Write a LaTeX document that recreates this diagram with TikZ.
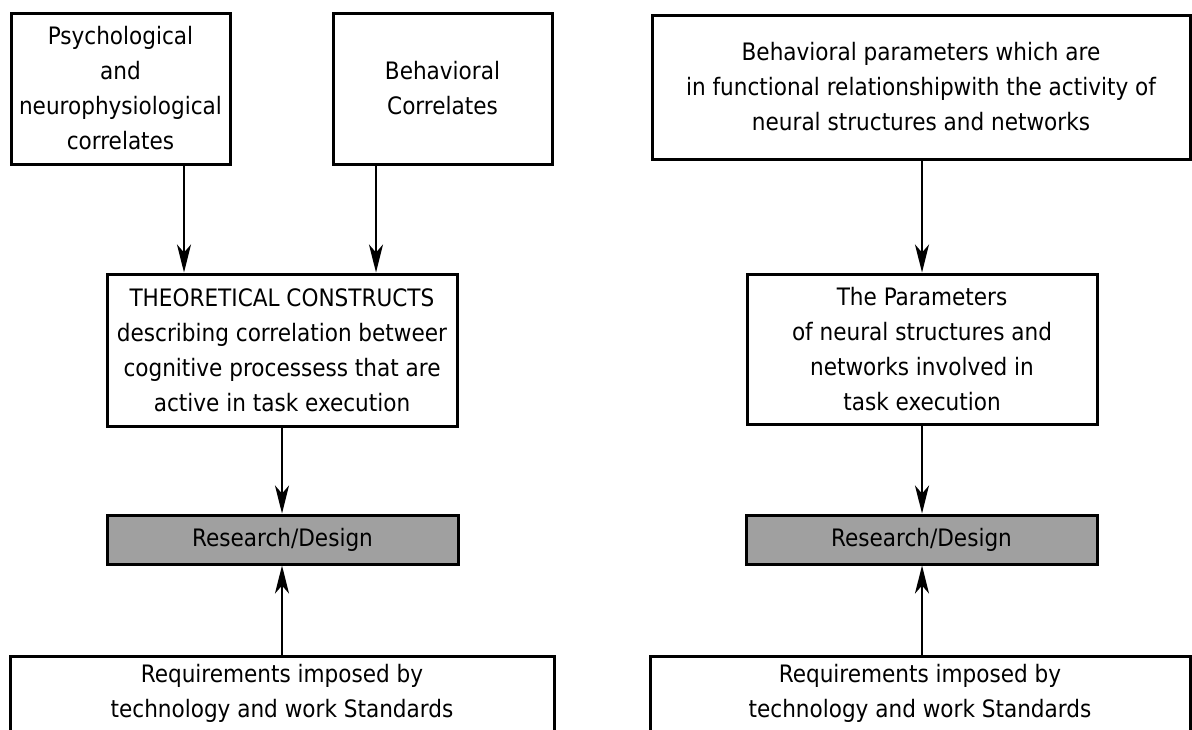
\documentclass[tikz,border=0pt]{standalone}
\usepackage{fontspec}
\setmainfont{DejaVu Sans Condensed}
\usetikzlibrary{arrows.meta}
\definecolor{rdgray}{RGB}{160,160,160}
\begin{document}
\begin{tikzpicture}[x=0.5pt,y=-0.5pt,
  box/.style={draw, line width=1.5pt, fill=white, align=center, inner sep=0pt,
    font=\fontsize{12pt}{17.5pt}\selectfont},
  rdbox/.style={box, fill=rdgray, minimum width=175.5pt, minimum height=24.5pt},
  txt/.style={align=center, inner sep=0pt, font=\fontsize{12pt}{17.5pt}\selectfont},
  arr/.style={line width=1.25pt, -{Stealth[length=14pt,width=7pt,inset=4pt]}}]
\useasboundingbox (0,0) rectangle (1192,729);
% left column
\node[box, minimum width=109.5pt, minimum height=75.5pt] (p1) at (120.5,88.5)
  {Psychological\\and\\neurophysiological\\correlates};
\node[box, minimum width=109.5pt, minimum height=75.5pt] (p2) at (442.5,88.5)
  {Behavioral\\Correlates};
\node[box, minimum width=175pt, minimum height=76pt] (p3) at (282,350)
  {THEORETICAL CONSTRUCTS\\describing correlation betweer\\cognitive processess that are\\active in task execution};
\node[rdbox] (r1) at (282.5,539.5) {Research/Design};
\node[box, anchor=north, minimum width=272pt, minimum height=60pt] (q1) at (282,655) {};
\node[txt] (q1t) at (282,693) {Requirements imposed by\\technology and work Standards};
% right column
\node[box, minimum width=269pt, minimum height=72pt] (b4) at (921,87)
  {Behavioral parameters which are\\in functional relationshipwith the activity of\\neural structures and networks};
\node[box, minimum width=175pt, minimum height=75pt] (b5) at (922,349)
  {The Parameters\\of neural structures and\\networks involved in\\task execution};
\node[rdbox] (r2) at (921.5,539.5) {Research/Design};
\node[box, anchor=north, minimum width=270pt, minimum height=60pt] (q2) at (920,655) {};
\node[txt] (q2t) at (920,693) {Requirements imposed by\\technology and work Standards};
% connectors
\coordinate (xa) at (184,0);
\coordinate (xb) at (376,0);
\coordinate (xc) at (282,0);
\coordinate (xd) at (922,0);
\draw[arr] (p1.south -| xa) -- (p3.north -| xa);
\draw[arr] (p2.south -| xb) -- (p3.north -| xb);
\draw[arr] (p3.south -| xc) -- (r1.north -| xc);
\draw[arr] (q1.north -| xc) -- (r1.south -| xc);
\draw[arr] (b4.south -| xd) -- (b5.north -| xd);
\draw[arr] (b5.south -| xd) -- (r2.north -| xd);
\draw[arr] (q2.north -| xd) -- (r2.south -| xd);
\end{tikzpicture}
\end{document}
